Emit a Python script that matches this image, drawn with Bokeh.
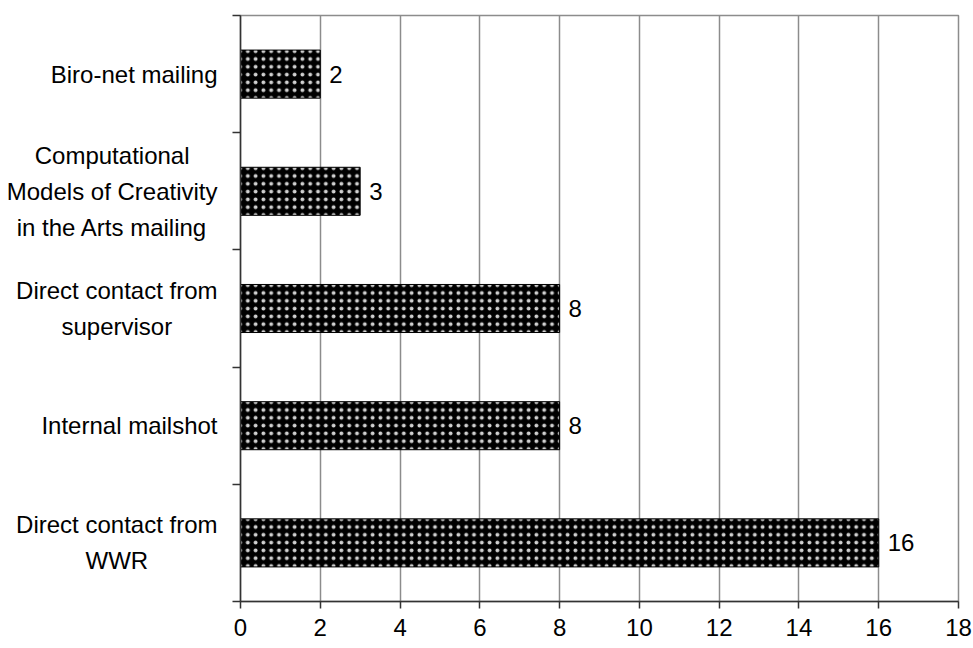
from bokeh.plotting import figure
from bokeh.layouts import row
from bokeh.models import ColumnDataSource, FixedTicker, Range1d
from bokeh.core.properties import value
from bokeh.embed import file_html
from bokeh.resources import INLINE

# Sources of recruitment, bottom to top
categories = [
    "Direct contact from\nWWR",
    "Internal mailshot",
    "Direct contact from\nsupervisor",
    "Computational\nModels of Creativity\nin the Arts mailing",
    "Biro-net mailing",
]
counts = [16, 8, 8, 3, 2]
x_ticks = [0, 2, 4, 6, 8, 10, 12, 14, 16, 18]

FONT = "Liberation Sans"
FONT_SIZE = "24px"

positions = [i + 0.5 for i in range(len(categories))]
source = ColumnDataSource(dict(
    y=positions,
    count=counts,
    label=[str(c) for c in counts],
    name=categories,
))
y_range = Range1d(0, len(categories))

# ---- main chart -------------------------------------------------------------
p = figure(
    frame_width=718, frame_height=586,
    min_border_left=20, min_border_right=15,
    min_border_top=15, min_border_bottom=47,
    x_range=Range1d(0, 18), y_range=y_range,
    output_backend="svg", toolbar_location=None,
)
p.background_fill_color = "white"
p.border_fill_color = "white"
p.outline_line_color = "#8c8c8c"
p.outline_line_width = 1.5

# vertical gridlines only
p.ygrid.visible = False
p.xgrid.grid_line_color = "#8c8c8c"
p.xgrid.grid_line_width = 1.5
p.xgrid.ticker = FixedTicker(ticks=x_ticks)

# value axis
xa = p.xaxis[0]
xa.ticker = FixedTicker(ticks=x_ticks)
xa.axis_line_color = "#333333"
xa.axis_line_width = 1.5
xa.major_tick_line_color = "#333333"
xa.major_tick_line_width = 1.5
xa.major_tick_in = 0
xa.major_tick_out = 7
xa.minor_tick_line_color = None
xa.major_label_text_font = FONT
xa.major_label_text_font_size = FONT_SIZE
xa.major_label_text_color = "black"
xa.major_label_standoff = 10

# category axis: tick marks at band boundaries
ya = p.yaxis[0]
ya.ticker = FixedTicker(ticks=[], minor_ticks=list(range(len(categories) + 1)))
ya.axis_line_color = "#333333"
ya.axis_line_width = 1.5
ya.major_tick_line_color = None
ya.major_tick_in = 0
ya.major_tick_out = 0
ya.minor_tick_line_color = "#333333"
ya.minor_tick_line_width = 1.5
ya.minor_tick_in = 0
ya.minor_tick_out = 8
ya.major_label_text_font_size = "0px"
ya.major_label_standoff = 0

p.hbar(
    y="y", right="count", left=0, height=0.41, source=source,
    fill_color="black", line_color="black", line_width=1,
    hatch_pattern="dot", hatch_color="#d0d0d0", hatch_scale=7.8, hatch_weight=0.55,
)

p.text(
    x="count", y="y", text="label", source=source,
    x_offset=9, text_baseline="middle", text_align="left",
    text_font=value(FONT), text_font_size=FONT_SIZE, text_color="black",
)

# ---- category names (lines centred, block right-aligned) --------------------
names = figure(
    frame_width=220, frame_height=586,
    min_border_left=0, min_border_right=0,
    min_border_top=15, min_border_bottom=47,
    x_range=Range1d(0, 1), y_range=y_range,
    output_backend="svg", toolbar_location=None,
)
names.axis.visible = False
names.grid.visible = False
names.outline_line_color = None
names.background_fill_color = "white"
names.border_fill_color = "white"
names.text(
    x=1, y="y", text="name", source=source, x_offset=-3,
    anchor="center_right", text_align="center", text_baseline="middle",
    text_font=value(FONT), text_font_size=FONT_SIZE, text_color="black",
    text_line_height=1.33,
)

layout = row(names, p, spacing=0)
open("out.html", "w").write(file_html(layout, INLINE))
